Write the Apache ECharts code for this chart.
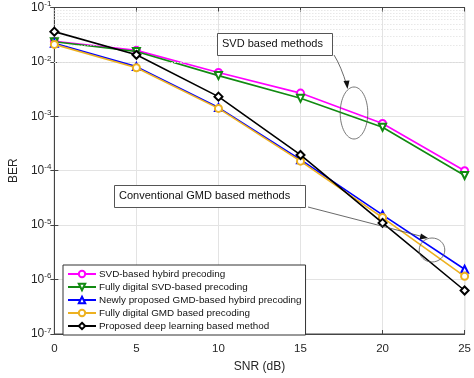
<!DOCTYPE html>
<html>
<head>
<meta charset="utf-8">
<script src="https://cdn.jsdelivr.net/npm/echarts@6/dist/echarts.min.js"></script>
<style>
  html, body { margin: 0; padding: 0; background: #fff; }
  #main { width: 474px; height: 378px; }
</style>
</head>
<body>
<div id="main"></div>
<script>
// SNR points (dB)
var snr = [0, 5, 10, 15, 20, 25];

// BER curves
var svdHybrid   = [0.024, 0.0163, 0.0064, 0.00267, 0.00074, 1.0e-4];
var svdDigital  = [0.0235, 0.0155, 0.0056, 0.00214, 0.00063, 8.2e-5];
var gmdHybrid   = [0.022, 0.0082, 0.00145, 1.6e-4, 1.55e-5, 1.55e-6];
var gmdDigital  = [0.021, 0.0078, 0.0014, 1.5e-4, 1.38e-5, 1.15e-6];
var deepLearn   = [0.036, 0.0135, 0.0023, 1.95e-4, 1.1e-5, 6.3e-7];

var names = [
  'SVD-based hybird precoding',
  'Fully digital SVD-based precoding',
  'Newly proposed GMD-based hybird precoding',
  'Fully digital GMD based precoding',
  'Proposed deep learning based method'
];
var colors = ['#ff00ff', '#128a12', '#0000ff', '#edb120', '#000000'];
var symbols = ['emptyCircle', 'emptyTriangle', 'emptyTriangle', 'emptyCircle', 'emptyDiamond'];
var rotates = [0, 180, 0, 0, 0];

var font = 'Liberation Sans, Arial, sans-serif';

function pairs(ys) {
  var out = [];
  for (var i = 0; i < snr.length; i++) out.push([snr[i], ys[i]]);
  return out;
}

// minor log grid (2..9 x 10^k)
var minorLines = [];
for (var k = -7; k < -1; k++) {
  for (var m = 2; m <= 9; m++) {
    minorLines.push({ yAxis: m * Math.pow(10, k) });
  }
}

var allData = [svdHybrid, svdDigital, gmdHybrid, gmdDigital, deepLearn];
var series = [{
  name: 'minor',
  type: 'line',
  data: [],
  z: 1,
  silent: true,
  markLine: {
    silent: true,
    symbol: 'none',
    label: { show: false },
    lineStyle: { color: '#dcdcdc', type: [1, 2], width: 1 },
    data: minorLines,
    animation: false
  }
}];
for (var i = 0; i < names.length; i++) {
  series.push({
    name: names[i],
    type: 'line',
    data: pairs(allData[i]),
    z: 3 + i,
    symbol: symbols[i],
    symbolSize: i == 4 ? 8 : 7,
    symbolRotate: rotates[i],
    showAllSymbol: true,
    lineStyle: { color: colors[i], width: 1.6 },
    itemStyle: { color: colors[i], borderColor: colors[i], borderWidth: 1.2 }
  });
}

var supLabel = {
  formatter: function (v) {
    var e = Math.round(Math.log(v) / Math.LN10);
    return '10{sup|' + e + '}';
  },
  color: '#262626',
  fontFamily: font,
  fontSize: 12,
  margin: 3,
  rich: {
    sup: { fontSize: 8, verticalAlign: 'top', padding: [0, 0, 7, 0], fontFamily: font, color: '#262626' }
  }
};

var chart = echarts.init(document.getElementById('main'), null, { renderer: 'canvas' });
var option = {
  animation: false,
  backgroundColor: '#fff',
  grid: {
    left: 42, top: 7.5, right: 7, bottom: 35.5,
    show: true, borderColor: '#444', borderWidth: 1, backgroundColor: '#fff'
  },
  xAxis: [{
    type: 'value',
    min: 0, max: 25, interval: 5,
    name: 'SNR (dB)',
    nameLocation: 'middle',
    nameGap: 27,
    nameTextStyle: { fontFamily: font, fontSize: 12, color: '#262626' },
    axisLine: { show: true, lineStyle: { color: '#444' } },
    axisTick: { show: true, inside: true, length: 4, lineStyle: { color: '#444' } },
    axisLabel: { fontFamily: font, fontSize: 11.5, color: '#262626', margin: 9 },
    splitLine: { show: true, lineStyle: { color: '#e3e3e3', width: 1 } }
  }, {
    type: 'value', position: 'top',
    min: 0, max: 25, interval: 5,
    axisLine: { show: true, lineStyle: { color: '#444' } },
    axisTick: { show: true, inside: true, length: 4, lineStyle: { color: '#444' } },
    axisLabel: { show: false },
    splitLine: { show: false }
  }],
  yAxis: [{
    type: 'log',
    logBase: 10,
    min: 1e-7, max: 1e-1,
    name: 'BER',
    nameLocation: 'middle',
    nameGap: 34,
    nameRotate: 90,
    nameTextStyle: { fontFamily: font, fontSize: 12, color: '#262626' },
    axisLine: { show: true, lineStyle: { color: '#444' } },
    axisTick: { show: true, inside: true, length: 4, lineStyle: { color: '#444' } },
    axisLabel: supLabel,
    splitLine: { show: true, lineStyle: { color: '#e3e3e3', width: 1 } }
  }, {
    type: 'log', position: 'right',
    logBase: 10,
    min: 1e-7, max: 1e-1,
    axisLine: { show: true, lineStyle: { color: '#444' } },
    axisTick: { show: true, inside: true, length: 4, lineStyle: { color: '#444' } },
    axisLabel: { show: false },
    splitLine: { show: false }
  }],
  legend: {
    data: names,
    orient: 'vertical',
    left: 63,
    top: 265,
    padding: [3, 4, 3, 4],
    itemGap: 1,
    itemWidth: 28,
    itemHeight: 8,
    backgroundColor: '#fff',
    borderColor: '#333',
    borderWidth: 1,
    borderRadius: 0,
    selectedMode: false,
    textStyle: { fontFamily: font, fontSize: 9.9, color: '#111', lineHeight: 12, padding: [0, 0, 0, -2] }
  },
  series: series,
  graphic: [
    // SVD annotation box
    {
      type: 'rect', z: 50,
      shape: { x: 217.5, y: 33.5, width: 115, height: 22 },
      style: { fill: '#fff', stroke: '#555', lineWidth: 1 }
    },
    {
      type: 'text', z: 51, left: 222, top: 38,
      style: { text: 'SVD based methods', font: '11px ' + font, fill: '#111' }
    },
    {
      type: 'bezierCurve', z: 50,
      shape: { x1: 334, y1: 55, x2: 347, y2: 86, cpx1: 341, cpy1: 66 },
      style: { stroke: '#444', lineWidth: 0.8, fill: null }
    },
    {
      type: 'polygon', z: 50,
      shape: { points: [[347.5, 89], [343.5, 81], [349.5, 80.5]] },
      style: { fill: '#111' }
    },
    {
      type: 'ellipse', z: 50,
      shape: { cx: 354, cy: 113, rx: 13.8, ry: 26 },
      style: { fill: null, stroke: '#555', lineWidth: 0.8 }
    },
    // GMD annotation box
    {
      type: 'rect', z: 50,
      shape: { x: 114.5, y: 185.5, width: 191, height: 22 },
      style: { fill: '#fff', stroke: '#555', lineWidth: 1 }
    },
    {
      type: 'text', z: 51, left: 119, top: 190,
      style: { text: 'Conventional GMD based methods', font: '11px ' + font, fill: '#111' }
    },
    {
      type: 'line', z: 50,
      shape: { x1: 308, y1: 207, x2: 424, y2: 237 },
      style: { stroke: '#444', lineWidth: 0.8 }
    },
    {
      type: 'polygon', z: 50,
      shape: { points: [[428, 238], [419.5, 239.5], [421, 233.5]] },
      style: { fill: '#111' }
    },
    {
      type: 'ellipse', z: 50,
      shape: { cx: 432, cy: 250, rx: 12.8, ry: 12 },
      style: { fill: null, stroke: '#555', lineWidth: 0.8 }
    }
  ]
};
chart.setOption(option);
</script>
</body>
</html>
